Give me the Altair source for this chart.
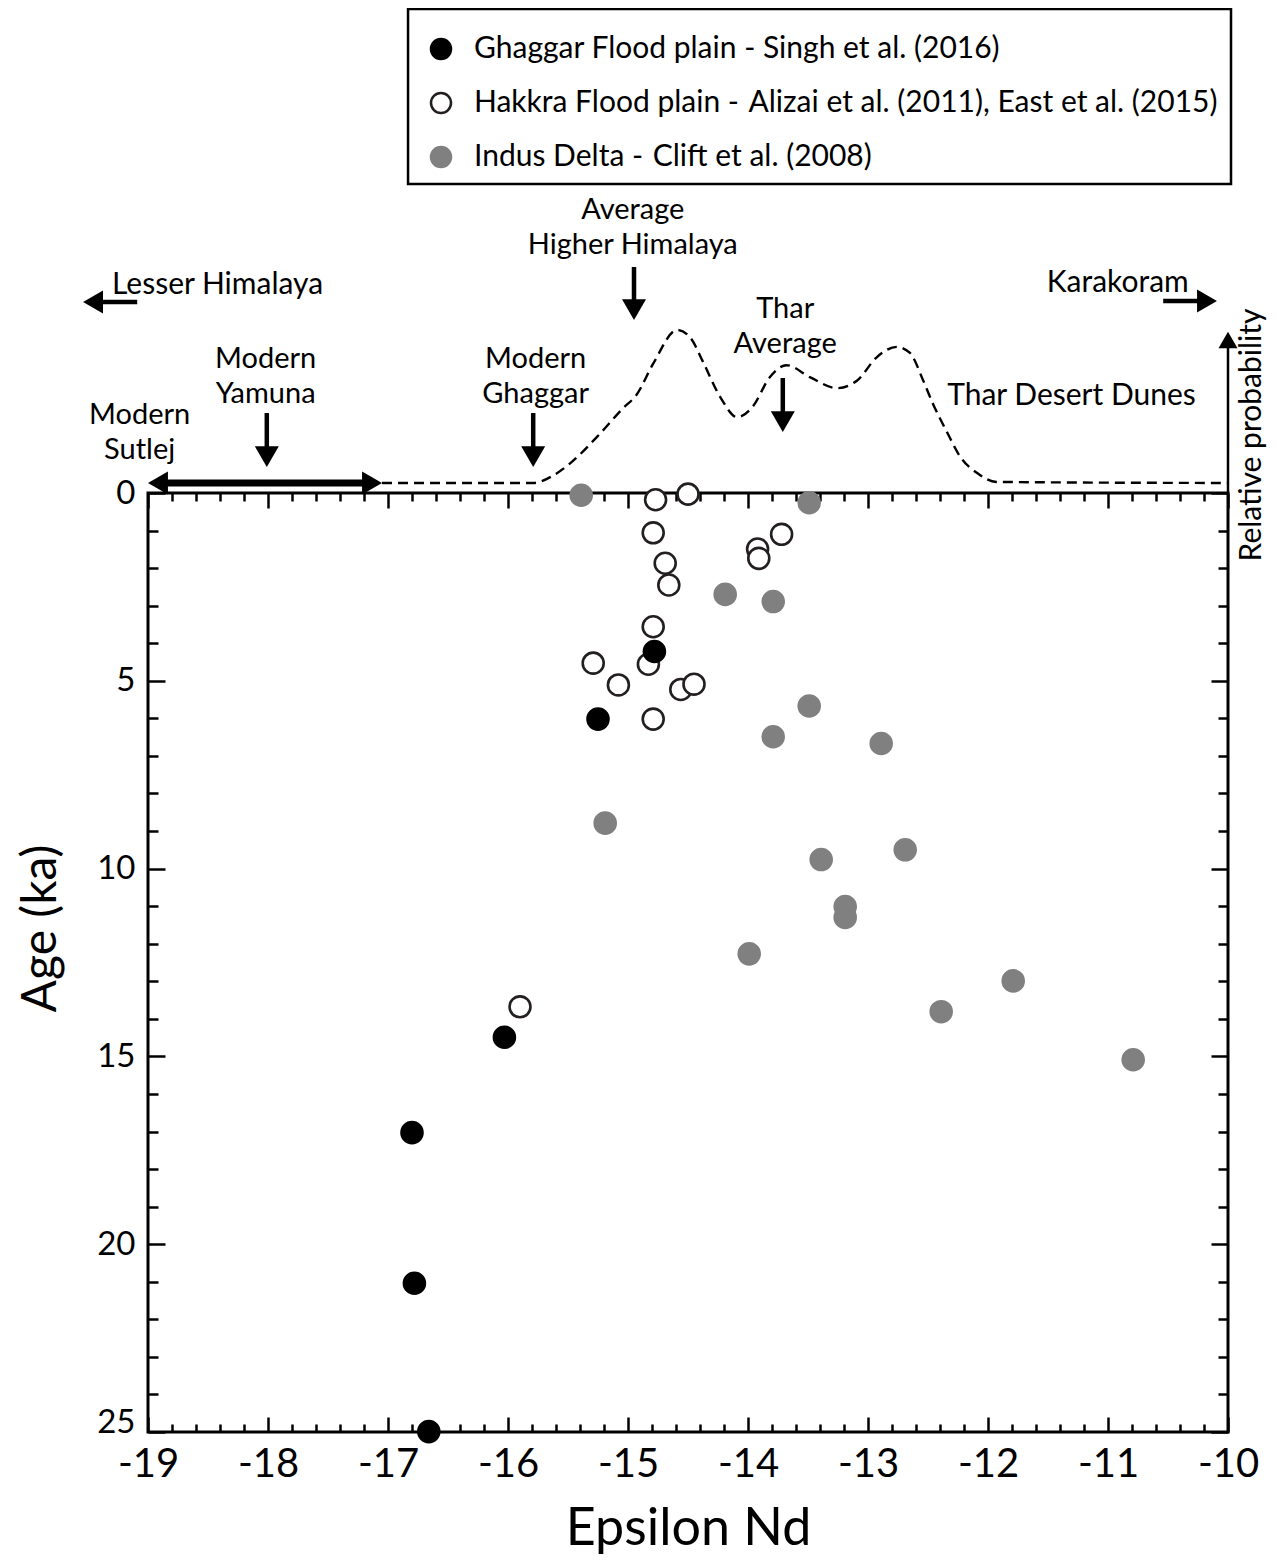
import altair as alt
import pandas as pd

FONT = "Lato"

# ---------------- data ----------------
series_names = [
    "Ghaggar Flood plain - Singh et al. (2016)",
    "Hakkra Flood plain - \u200aAlizai et al. (2011), East et al. (2015)",
    "Indus Delta - \u200aClift et al. (2008)",
]
series_fill = ["#000000", "#ffffff", "#808080"]
series_stroke = ["#000000", "#231f20", "#808080"]

ghaggar_eps = [-15.25, -14.78, -16.03, -16.80, -16.78, -16.66]
ghaggar_age = [6.02, 4.22, 14.49, 17.03, 21.04, 24.99]

hakkra_eps = [-14.77, -14.50, -14.79, -14.69, -14.66, -13.72, -13.92, -13.91,
              -14.79, -15.29, -14.83, -15.08, -14.56, -14.45, -14.79, -15.90]
hakkra_age = [0.18, 0.03, 1.06, 1.87, 2.45, 1.10, 1.49, 1.74,
              3.56, 4.53, 4.56, 5.11, 5.23, 5.09, 6.02, 13.68]

indus_eps = [-15.39, -13.49, -14.19, -13.79, -13.49, -13.79, -12.89, -15.19,
             -13.39, -12.69, -13.19, -13.19, -13.99, -11.79, -12.39, -10.79]
indus_age = [0.06, 0.26, 2.70, 2.89, 5.67, 6.49, 6.67, 8.79,
             9.76, 9.50, 11.01, 11.30, 12.27, 12.99, 13.81, 15.09]

# Thar desert dunes relative probability curve
curve_eps = [-17.05, -15.79, -15.63, -15.48, -15.26, -15.04, -14.93, -14.79, -14.59,
             -14.48, -14.38, -14.23, -14.09, -13.96, -13.82, -13.68, -13.48, -13.26,
             -13.09, -12.93, -12.76, -12.65, -12.54, -12.46, -12.34, -12.23, -12.09,
             -11.93, -10.0]
curve_prob = [0.0, 0.0, 0.046, 0.13, 0.30, 0.49, 0.575, 0.78, 1.0,
              0.95, 0.80, 0.56, 0.43, 0.50, 0.69, 0.77, 0.69, 0.62,
              0.67, 0.82, 0.89, 0.85, 0.67, 0.52, 0.33, 0.17, 0.065,
              0.007, 0.0]

x_major = [-19, -18, -17, -16, -15, -14, -13, -12, -11, -10]
x_minor = [round(-19 + 0.2 * i, 1) for i in range(1, 45) if i % 5 != 0]
y_major = [0, 5, 10, 15, 20, 25]
y_minor = [i for i in range(1, 25) if i % 5 != 0]

rows = []
for name, ex, ag in [(series_names[2], indus_eps, indus_age),
                     (series_names[1], hakkra_eps, hakkra_age),
                     (series_names[0], ghaggar_eps, ghaggar_age)]:
    for e, a in zip(ex, ag):
        rows.append({"series": name, "eps": e, "age": a})
pts_df = pd.DataFrame(rows)
curve_df = pd.DataFrame({"eps": curve_eps, "prob": curve_prob})

# ---------------- layout (annotation placement, pixels relative to plot top) ----------------
W, H = 1080, 939
XS = alt.Scale(domain=[-19, -10], nice=False, zero=False)
YS = alt.Scale(domain=[0, 25], nice=False, zero=False, reverse=True)

center_txt = pd.DataFrame({
    "t": ["Average\nHigher Himalaya", "Thar\nAverage", "Modern\nYamuna",
          "Modern\nGhaggar", "Modern\nSutlej"],
    "x": [-14.96, -13.69, -18.02, -15.77, -19.07],
    "y": [-274, -175, -125, -125, -69],
})
left_txt = pd.DataFrame({
    "t": ["Lesser Himalaya", "Karakoram", "Thar Desert Dunes"],
    "x": [-19.30, -11.51, -12.34],
    "y": [-199, -201, -88],
})
rot_txt = pd.DataFrame({"t": ["Relative probability"], "x": [-9.725], "y": [-58]})

shafts = pd.DataFrame({
    "x": [-14.95, -18.01, -15.79, -13.71, -19.09, -10.54, -18.94, -10.0],
    "x2": [-14.95, -18.01, -15.79, -13.71, -19.40, -10.23, -17.11, -10.0],
    "y": [-226, -80, -80, -115, -191, -192, -10, 0],
    "y2": [-191, -44, -44, -79, -191, -192, -10, -148],
    "w": [4.5, 4.5, 4.5, 4.5, 4.5, 4.5, 7, 2.5],
})
heads = pd.DataFrame({
    "x": [-14.95, -18.01, -15.79, -13.71, -19.458, -10.175, -18.917, -17.133, -10.0],
    "y": [-183.4, -36.4, -36.4, -71.4, -191, -192, -10, -10, -153],
    "shape": ["triangle-down"] * 4 + ["triangle-left", "triangle-right",
                                      "triangle-left", "triangle-right", "triangle-up"],
    "size": [576] * 4 + [529] * 4 + [361],
})
box = pd.DataFrame({"x": [-16.833], "x2": [-9.975], "y": [-484], "y2": [-309]})

# ---------------- layers ----------------
def xpos(f):
    return alt.X(f, scale=XS, axis=None)

def ypix(f):
    return alt.Y(f, scale=None, axis=None)

box_l = alt.Chart(box).mark_rect(fillOpacity=0, stroke="black", strokeWidth=2.5).encode(
    x=xpos("x:Q"), x2="x2:Q", y=ypix("y:Q"), y2="y2:Q")

curve_l = alt.Chart(curve_df).mark_line(
    color="black", strokeWidth=2.4, strokeDash=[10, 6], interpolate="monotone"
).encode(
    x=xpos("eps:Q"),
    y=alt.Y("prob:Q", scale=alt.Scale(domain=[0, 1], range=[-10, -163], nice=False, zero=False),
            axis=None),
)

shaft_l = alt.Chart(shafts).mark_rule(color="black").encode(
    x=xpos("x:Q"), x2="x2:Q", y=ypix("y:Q"), y2="y2:Q",
    strokeWidth=alt.StrokeWidth("w:Q", scale=None, legend=None))

head_l = alt.Chart(heads).mark_point(filled=True, color="black", opacity=1, strokeWidth=0).encode(
    x=xpos("x:Q"), y=ypix("y:Q"),
    shape=alt.Shape("shape:N", scale=None, legend=None),
    size=alt.Size("size:Q", scale=None, legend=None))

tc_l = alt.Chart(center_txt).mark_text(font=FONT, fontSize=29, align="center",
                                       baseline="alphabetic", color="black",
                                       lineBreak="\n", lineHeight=35).encode(
    x=xpos("x:Q"), y=ypix("y:Q"), text="t:N")
tl_l = alt.Chart(left_txt).mark_text(font=FONT, fontSize=30, align="left",
                                     baseline="alphabetic", color="black").encode(
    x=xpos("x:Q"), y=ypix("y:Q"), text="t:N")
tr_l = alt.Chart(rot_txt).mark_text(font=FONT, fontSize=30, align="center", angle=270,
                                    baseline="alphabetic", color="black").encode(
    x=xpos("x:Q"), y=ypix("y:Q"), text="t:N")


def tick_axis(orient, offset, values, size):
    return alt.Axis(orient=orient, offset=offset, values=values, labels=False, domain=False,
                    grid=False, ticks=True, tickSize=size, tickWidth=2.5, tickColor="black",
                    title=None)


def carrier(xaxis, yaxis):
    return alt.Chart(pts_df).mark_point(opacity=0).encode(
        x=alt.X("eps:Q", scale=XS, axis=xaxis),
        y=alt.Y("age:Q", scale=YS, axis=yaxis))


c1 = carrier(tick_axis("top", -H, x_major, 15), tick_axis("right", -W, y_major, 17))
c2 = carrier(tick_axis("top", -H, x_minor, 8), tick_axis("right", -W, y_minor, 10))
c3 = carrier(tick_axis("bottom", -H, x_major, 15), tick_axis("left", -W, y_major, 17))
c4 = carrier(tick_axis("bottom", -H, x_minor, 8), tick_axis("left", -W, y_minor, 10))

LEG = alt.Legend(orient="none", legendX=278, legendY=-459, title=None, labelFont=FONT,
                 labelFontSize=30, labelColor="black", labelLimit=2000, labelOffset=18,
                 symbolType="circle", symbolSize=400, symbolStrokeWidth=2.5, rowPadding=24,
                 padding=0, direction="vertical")

points = alt.Chart(pts_df).mark_point(filled=True, shape="circle", size=440,
                                      strokeWidth=2.6, opacity=1).encode(
    x=alt.X("eps:Q", scale=XS, axis=alt.Axis(
        orient="bottom", values=x_major, ticks=False, tickSize=0, domain=False, grid=False,
        labelFont=FONT, labelFontSize=40, labelColor="black", labelPadding=12,
        labelFlush=False, labelOverlap=False, labelExpr="toString(datum.value)",
        title="Epsilon Nd", titleFont=FONT, titleFontSize=52, titleFontWeight="normal",
        titleColor="black", titleX=W / 2, titleY=112, titleAlign="center",
        titleBaseline="alphabetic")),
    y=alt.Y("age:Q", scale=YS, axis=alt.Axis(
        orient="left", values=y_major, ticks=False, tickSize=0, domain=False, grid=False,
        labelFont=FONT, labelFontSize=33, labelColor="black", labelPadding=13,
        labelOverlap=False,
        labelBaseline={"condition": {"test": "datum.value == 25", "value": "alphabetic"},
                       "value": "middle"},
        title="Age (ka)", titleFont=FONT, titleFontSize=48, titleFontWeight="normal",
        titleColor="black", titleAngle=270, titleX=-93, titleY=435, titleAlign="center",
        titleBaseline="alphabetic")),
    fill=alt.Fill("series:N", scale=alt.Scale(domain=series_names, range=series_fill),
                  legend=LEG),
    stroke=alt.Stroke("series:N", scale=alt.Scale(domain=series_names, range=series_stroke),
                      legend=LEG),
)

chart = alt.layer(
    box_l, curve_l, shaft_l, head_l, tc_l, tl_l, tr_l, c1, c2, c3, c4, points
).resolve_scale(
    y="independent"
).resolve_axis(
    x="independent", y="independent"
).properties(
    width=W, height=H,
    autosize=alt.AutoSizeParams(type="none"),
    padding={"left": 140, "top": 485, "right": 41, "bottom": 124},
).configure(
    font=FONT
).configure_view(
    stroke="black", strokeWidth=3
)

chart.save("out.html", embed_options={"renderer": "svg", "actions": False})
